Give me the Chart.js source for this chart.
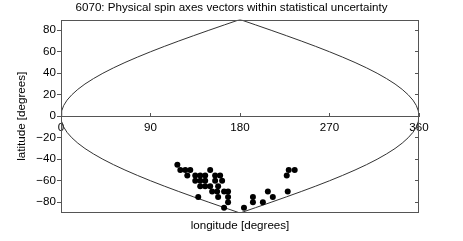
<!DOCTYPE html>
<html>
<head>
<meta charset="utf-8">
<script src="https://cdn.jsdelivr.net/npm/chart.js@4.4.1/dist/chart.umd.min.js"></script>
<style>
    html, body { margin: 0; padding: 0; background: #fff; overflow: hidden; }
    canvas { display: block; }
</style>
</head>
<body>
<canvas id="spinChart" width="463" height="241"></canvas>
<script>
// spin axis solutions (longitude / latitude, degrees)
const spinLon = [117, 120, 125, 130, 127, 135, 140, 135, 140, 140, 145, 138, 145, 150, 145, 150,
    155, 160, 155, 162, 158, 152, 157, 164, 168, 168, 168, 158, 164, 184, 193, 193, 203, 208, 213,
    228, 227, 229, 235];
const spinLat = [-45, -50, -50, -50, -55, -55, -55, -60, -60, -65, -65, -75, -55, -50, -60, -65,
    -55, -55, -60, -60, -65, -70, -70, -70, -70, -75, -80, -75, -85, -85, -75, -80, -80, -70, -75,
    -70, -55, -50, -50];

// outline of the projected sky
const edgeLon = [0, 0.7, 2.7, 6.1, 10.9, 16.9, 24.1, 32.6, 42.1, 52.7, 64.3, 76.8, 90, 103.9, 118.4,
    133.4, 148.7, 164.3, 180, 195.7, 211.3, 226.6, 241.6, 256.1, 270, 283.2, 295.7, 307.3, 317.9,
    327.4, 335.9, 343.1, 349.1, 353.9, 357.3, 359.3, 360, 359.3, 357.3, 353.9, 349.1, 343.1, 335.9,
    327.4, 317.9, 307.3, 295.7, 283.2, 270, 256.1, 241.6, 226.6, 211.3, 195.7, 180, 164.3, 148.7,
    133.4, 118.4, 103.9, 90, 76.8, 64.3, 52.7, 42.1, 32.6, 24.1, 16.9, 10.9, 6.1, 2.7, 0.7, 0];
const edgeLat = [0, 5, 10, 15, 20, 25, 30, 35, 40, 45, 50, 55, 60, 65, 70, 75, 80, 85, 90,
    85, 80, 75, 70, 65, 60, 55, 50, 45, 40, 35, 30, 25, 20, 15, 10, 5, 0,
    -5, -10, -15, -20, -25, -30, -35, -40, -45, -50, -55, -60, -65, -70, -75, -80, -85, -90,
    -85, -80, -75, -70, -65, -60, -55, -50, -45, -40, -35, -30, -25, -20, -15, -10, -5, 0];

const xTicks = [0, 90, 180, 270, 360];
const yTicks = [-80, -60, -40, -20, 0, 20, 40, 60, 80];
const yTickLabels = ['\u221280', '\u221260', '\u221240', '\u221220', '0', '20', '40', '60', '80'];

const FONT = 'Liberation Sans, Arial, Helvetica, sans-serif';
const AXIS_COLOR = '#555';

// frame round the plot area
const framePlugin = {
    id: 'frame',
    afterDraw(chart) {
        const a = chart.chartArea;
        const ctx = chart.ctx;
        ctx.save();
        ctx.strokeStyle = AXIS_COLOR;
        ctx.lineWidth = 1;
        ctx.strokeRect(Math.round(a.left) + 0.5, Math.round(a.top) + 0.5,
            Math.round(a.right - a.left) - 1, Math.round(a.bottom - a.top) - 1);
        ctx.restore();
    }
};

document.addEventListener('DOMContentLoaded', function () {
    const ctx = document.getElementById('spinChart').getContext('2d');

    const dots = spinLon.map((lon, i) => ({ x: lon, y: spinLat[i] }));
    const edge = edgeLon.map((lon, i) => ({ x: lon, y: edgeLat[i] }));

    new Chart(ctx, {
        type: 'scatter',
        data: {
            datasets: [
                {
                    label: 'spin axes',
                    data: dots,
                    pointRadius: 3,
                    pointBackgroundColor: '#000',
                    pointBorderWidth: 0,
                    order: 0
                },
                {
                    label: 'edge',
                    data: edge,
                    showLine: true,
                    pointRadius: 0,
                    borderColor: '#333',
                    borderWidth: 1,
                    tension: 0,
                    order: 1
                }
            ]
        },
        options: {
            responsive: false,
            animation: false,
            devicePixelRatio: 1,
            layout: { padding: 0 },
            plugins: {
                legend: { display: false },
                tooltip: { enabled: false },
                title: {
                    display: true,
                    text: '6070: Physical spin axes vectors within statistical uncertainty',
                    color: '#000',
                    font: { family: FONT, size: 11.6, weight: 'normal' },
                    padding: { top: 1, bottom: 4.6 }
                }
            },
            scales: {
                x: {
                    type: 'linear',
                    position: { y: 0 },
                    min: 0,
                    max: 360,
                    afterBuildTicks: s => { s.ticks = xTicks.map(v => ({ value: v })); },
                    ticks: {
                        color: '#000',
                        font: { family: FONT, size: 11.6 },
                        padding: 9,
                        maxRotation: 0,
                        autoSkip: false
                    },
                    grid: { drawOnChartArea: false, drawTicks: true, tickLength: -4, color: AXIS_COLOR },
                    border: { display: true, color: AXIS_COLOR, width: 1 }
                },
                x2: {
                    type: 'linear',
                    position: 'bottom',
                    min: 0,
                    max: 360,
                    afterFit: s => { s.height = 28; },
                    ticks: { display: false },
                    grid: { drawOnChartArea: false, drawTicks: false },
                    border: { display: false },
                    title: {
                        display: true,
                        text: 'longitude [degrees]',
                        color: '#000',
                        font: { family: FONT, size: 11.6 },
                        padding: { top: 0, bottom: 8 }
                    }
                },
                y: {
                    type: 'linear',
                    position: 'left',
                    min: -90,
                    max: 90,
                    afterBuildTicks: s => { s.ticks = yTicks.map(v => ({ value: v })); },
                    afterFit: s => { s.width = 61; },
                    ticks: {
                        color: '#000',
                        font: { family: FONT, size: 11.6 },
                        padding: 1,
                        callback: (v) => yTickLabels[yTicks.indexOf(v)]
                    },
                    grid: { drawOnChartArea: false, drawTicks: true, tickLength: 4, color: AXIS_COLOR },
                    border: { display: false },
                    title: {
                        display: true,
                        text: 'latitude [degrees]',
                        color: '#000',
                        font: { family: FONT, size: 11.6 },
                        padding: { top: 15, bottom: 0 }
                    }
                },
                y2: {
                    type: 'linear',
                    position: 'right',
                    min: -90,
                    max: 90,
                    afterBuildTicks: s => { s.ticks = yTicks.map(v => ({ value: v })); },
                    afterFit: s => { s.width = 44; },
                    ticks: { display: false },
                    grid: { drawOnChartArea: false, drawTicks: true, tickLength: -4, color: AXIS_COLOR },
                    border: { display: false }
                }
            }
        },
        plugins: [framePlugin]
    });
});
</script>
</body>
</html>
